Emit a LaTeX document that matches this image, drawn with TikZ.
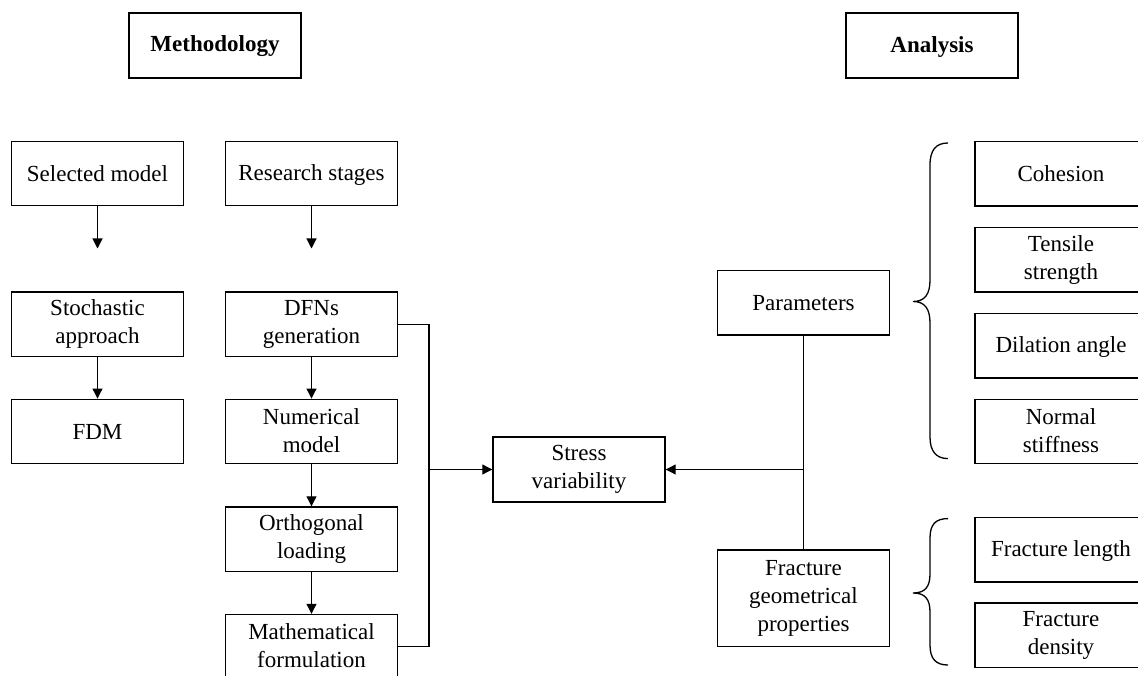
\documentclass[tikz,border=0pt]{standalone}
\usepackage{fontspec}
\setmainfont{Liberation Serif}
\usetikzlibrary{arrows.meta}
\newcommand\boxtopstrut{\rule{0pt}{18pt}}
\newcommand\boxbotstrut{\rule[-2.5pt]{0pt}{2.5pt}}
\tikzset{
  box/.style={draw=black, line width=1.4pt, minimum width=172pt, minimum height=64.5pt,
    align=center, inner sep=0pt,
    execute at begin node=\boxtopstrut, execute at end node=\boxbotstrut,
    font=\fontsize{23}{28}\selectfont},
  headbox/.style={box, minimum height=65pt, font=\fontsize{23}{28}\selectfont\bfseries},
  link/.style={draw=black, line width=1.1pt},
  arr/.style={link, -{Triangle[length=10pt,width=10pt]}},
  bracestyle/.style={draw=black, line width=1.3pt}
}
\begin{document}
\begin{tikzpicture}[x=1pt,y=-1pt]
\useasboundingbox (0,0) rectangle (1138,676);
\clip (0,0) rectangle (1138,676);
\fill[white] (0,0) rectangle (1138,676);
% headers
\node[headbox] (meth) at (215,45.5) {Methodology};
\node[headbox] (anal) at (932,45.5) {Analysis};
% left column
\node[box] (sel) at (97.5,173.5) {Selected model};
\node[box] (res) at (311.5,173.5) {Research stages};
\node[box] (sto) at (97.5,324.25) {Stochastic\\approach};
\node[box] (fdm) at (97.5,431.5) {FDM};
\node[box] (dfn) at (311.5,324.25) {DFNs\\generation};
\node[box] (num) at (311.5,431.5) {Numerical\\model};
\node[box] (ort) at (311.5,539.25) {Orthogonal\\loading};
\node[box] (mat) at (311.5,646.75) {Mathematical\\formulation};
% centre
\node[box, minimum height=65pt] (str) at (579,469.5) {Stress\\variability};
% right
\node[box] (par) at (803.5,302.75) {Parameters};
\node[box, minimum height=96.5pt] (fgp) at (803.5,598.25) {Fracture\\geometrical\\properties};
\node[box] (coh) at (1061,173.75) {Cohesion};
\node[box] (ten) at (1061,259.8) {Tensile\\strength};
\node[box] (dil) at (1061,345.9) {Dilation angle};
\node[box] (nor) at (1061,431.5) {Normal\\stiffness};
\node[box] (fle) at (1061,549.75) {Fracture length};
\node[box] (fde) at (1061,635.35) {Fracture\\density};
% free ends of top arrows
\coordinate (selend) at (97.5,248.5);
\coordinate (resend) at (311.5,248.5);
\draw[arr] (sel.south) -- (selend);
\draw[arr] (res.south) -- (resend);
% chains
\draw[arr] (sto.south) -- (fdm.north);
\draw[arr] (dfn.south) -- (num.north);
\draw[arr] (num.south) -- (ort.north);
\draw[arr] (ort.south) -- (mat.north);
% bracket to stress
\coordinate (jl) at (429,469.5);
\draw[link] (dfn.east) -| (jl) |- (mat.east);
\draw[arr] (jl) -- (str.west);
% right connector
\coordinate (jr) at (803.5,469.5);
\draw[link] (par.south) -- (fgp.north);
\draw[arr] (jr) -- (str.east);
% braces
\draw[bracestyle] (948,143) .. controls (936,143) and (930,150) .. (930,165)
  -- (930,280) .. controls (930,294) and (925,301.5) .. (913,301.5)
  .. controls (925,301.5) and (930,309) .. (930,323)
  -- (930,437) .. controls (930,451) and (936,458.6) .. (948,458.6);
\draw[bracestyle] (948,518.6) .. controls (936,518.6) and (930,524) .. (930,538)
  -- (930,574) .. controls (930,587) and (925,593) .. (913,593)
  .. controls (925,593) and (930,599) .. (930,612)
  -- (930,645) .. controls (930,659) and (936,665) .. (948,665);
\end{tikzpicture}
\end{document}
